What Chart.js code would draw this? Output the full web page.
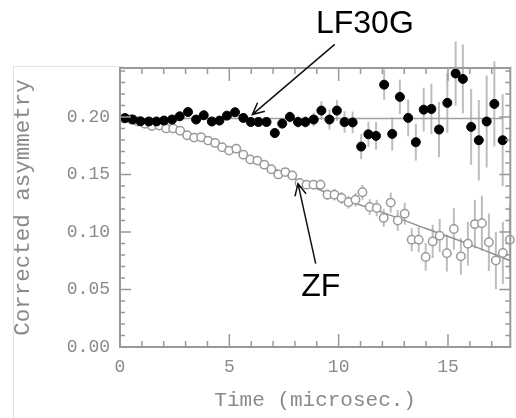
<!DOCTYPE html>
<html>
<head>
<meta charset="utf-8">
<script src="https://cdn.jsdelivr.net/npm/chart.js@4.4.1/dist/chart.umd.min.js"></script>
<style>
  html, body { margin: 0; padding: 0; background: #fff; }
  #wrap { position: relative; width: 516px; height: 418px; }
  #slide { position: absolute; left: 13px; top: 66px; width: 110px; height: 360px;
           border-left: 1px solid #e2e2e2; border-top: 1px solid #e2e2e2; }
  #chart { position: absolute; left: 0; top: 0; }
</style>
</head>
<body>
<div id="wrap">
  <div id="slide"></div>
  <canvas id="chart" width="516" height="418"></canvas>
</div>
<script>
// LF 30G data (filled circles)
const lfTime = [0.23, 0.58, 0.94, 1.32, 1.67, 2.01, 2.38, 2.73, 3.11, 3.48, 3.83, 4.20, 4.55, 4.89, 5.26, 5.64,
  5.98, 6.33, 6.70, 7.08, 7.42, 7.77, 8.14, 8.48, 8.86, 9.21, 9.58, 9.92, 10.27, 10.64, 11.03, 11.36, 11.71,
  12.08, 12.45, 12.80, 13.18, 13.53, 13.89, 14.24, 14.59, 14.97, 15.35, 15.68, 16.06, 16.41, 16.77, 17.12, 17.50];
const lfAsym = [0.199, 0.1977, 0.1962, 0.196, 0.196, 0.1968, 0.1977, 0.2005, 0.2043, 0.1977, 0.2014, 0.196,
  0.1968, 0.2011, 0.204, 0.1991, 0.1956, 0.1956, 0.1956, 0.186, 0.1942, 0.2, 0.1956, 0.1956, 0.1977, 0.2055,
  0.1977, 0.2055, 0.1955, 0.1952, 0.1742, 0.1849, 0.1835, 0.228, 0.1852, 0.2174, 0.1991, 0.178, 0.2063,
  0.2069, 0.189, 0.2122, 0.2377, 0.233, 0.1913, 0.1797, 0.196, 0.2113, 0.1797];
const lfErr = [0.0015, 0.0015, 0.0016, 0.0016, 0.0017, 0.0018, 0.0019, 0.002, 0.0021, 0.0022, 0.0024, 0.0025,
  0.0027, 0.0029, 0.003, 0.0032, 0.0035, 0.0037, 0.004, 0.0042, 0.0045, 0.0048, 0.005, 0.0052, 0.006, 0.008,
  0.0087, 0.009, 0.0094, 0.0094, 0.011, 0.011, 0.012, 0.013, 0.0145, 0.015, 0.016, 0.016, 0.019, 0.022, 0.024,
  0.026, 0.028, 0.03, 0.033, 0.035, 0.04, 0.037, 0.04];

// ZF data (open circles)
const zfTime = [0.18, 0.50, 0.82, 1.14, 1.46, 1.79, 2.11, 2.43, 2.75, 3.07, 3.39, 3.71, 4.03, 4.35, 4.67, 4.99,
  5.32, 5.64, 5.96, 6.28, 6.60, 6.92, 7.24, 7.56, 7.88, 8.21, 8.53, 8.85, 9.17, 9.49, 9.81, 10.13, 10.45, 10.77,
  11.09, 11.42, 11.74, 12.06, 12.38, 12.70, 13.02, 13.34, 13.66, 13.98, 14.30, 14.62, 14.95, 15.27, 15.59,
  15.91, 16.23, 16.55, 16.87, 17.19, 17.51, 17.83];
const zfAsym = [0.1985, 0.198, 0.196, 0.194, 0.192, 0.1925, 0.19, 0.19, 0.188, 0.184, 0.182, 0.1823, 0.1794,
  0.1774, 0.1736, 0.1707, 0.1724, 0.1672, 0.163, 0.162, 0.1585, 0.1545, 0.15, 0.152, 0.149, 0.1426, 0.1411,
  0.1411, 0.1411, 0.1324, 0.1324, 0.1295, 0.1258, 0.128, 0.1345, 0.1217, 0.1208, 0.1122, 0.1255, 0.11, 0.1158,
  0.0933, 0.0933, 0.0783, 0.0918, 0.0968, 0.0815, 0.1026, 0.0788, 0.0898, 0.1068, 0.1075, 0.091, 0.0752,
  0.0817, 0.0933];
const zfErr = [0.0012, 0.0012, 0.0013, 0.0013, 0.0014, 0.0014, 0.0015, 0.0016, 0.0016, 0.0017, 0.0018, 0.0019,
  0.002, 0.002, 0.0021, 0.0022, 0.0023, 0.0024, 0.0025, 0.0027, 0.0028, 0.003, 0.0031, 0.0033, 0.0035, 0.0037,
  0.0039, 0.0041, 0.0044, 0.0046, 0.005, 0.0052, 0.0056, 0.006, 0.0065, 0.0068, 0.0072, 0.0078, 0.0087, 0.009,
  0.0095, 0.01, 0.011, 0.012, 0.0145, 0.0145, 0.016, 0.018, 0.016, 0.019, 0.021, 0.024, 0.025, 0.025, 0.027, 0.029];

// fitted curves
const lfFitTime = [0, 17.5];
const lfFitAsym = [0.1985, 0.1985];
const zfFitTime = [0, 2, 4, 6, 8, 10, 12, 14, 16, 17.85];
const zfFitAsym = [0.198, 0.192, 0.18, 0.165, 0.146, 0.13, 0.117, 0.103, 0.089, 0.075];

// axis ticks
const xMajor = [0, 5, 10, 15];
const xMinor = [1, 2, 3, 4, 6, 7, 8, 9, 11, 12, 13, 14, 16, 17];
const yMajor = [0, 0.05, 0.10, 0.15, 0.20];
const yMinor = [0.01, 0.02, 0.03, 0.04, 0.06, 0.07, 0.08, 0.09, 0.11, 0.12, 0.13, 0.14, 0.16, 0.17, 0.18, 0.19, 0.21, 0.22, 0.23, 0.24];

// callouts (data units)
const notes = [
  { text: 'LF30G', at: [11.2, 0.281], from: [9.82, 0.263], to: [6.05, 0.202] },
  { text: 'ZF', at: [9.18, 0.0524], from: [8.95, 0.0724], to: [8.14, 0.142] }
];

function pts(xs, ys) {
  return xs.map((v, i) => ({ x: v, y: ys[i] }));
}

const gray = '#999999';
const axisFont = 'Liberation Mono';

const extras = {
  id: 'extras',
  beforeDatasetsDraw(chart) {
    const { ctx, scales: { x, y } } = chart;
    ctx.save();
    ctx.strokeStyle = '#bdbdbd';
    ctx.lineWidth = 2;
    function bars(ts, vs, es) {
      ts.forEach((t, i) => {
        const px = x.getPixelForValue(t);
        ctx.beginPath();
        ctx.moveTo(px, y.getPixelForValue(vs[i] - es[i]));
        ctx.lineTo(px, y.getPixelForValue(vs[i] + es[i]));
        ctx.stroke();
      });
    }
    bars(zfTime, zfAsym, zfErr);
    bars(lfTime, lfAsym, lfErr);
    ctx.restore();
  },
  afterDraw(chart) {
    const { ctx, chartArea: a, scales: { x, y } } = chart;
    ctx.save();
    // frame
    ctx.strokeStyle = gray;
    ctx.lineWidth = 2;
    ctx.strokeRect(a.left, a.top, a.right - a.left, a.bottom - a.top);
    // inward ticks on all four sides
    ctx.lineWidth = 1.5;
    function xt(list, len) {
      list.forEach(v => {
        const px = x.getPixelForValue(v);
        ctx.beginPath();
        ctx.moveTo(px, a.bottom); ctx.lineTo(px, a.bottom - len);
        ctx.moveTo(px, a.top); ctx.lineTo(px, a.top + len);
        ctx.stroke();
      });
    }
    function yt(list, len) {
      list.forEach(v => {
        const py = y.getPixelForValue(v);
        ctx.beginPath();
        ctx.moveTo(a.left, py); ctx.lineTo(a.left + len, py);
        ctx.moveTo(a.right, py); ctx.lineTo(a.right - len, py);
        ctx.stroke();
      });
    }
    xt(xMajor, 13); xt(xMinor, 6);
    yt(yMajor, 11); yt(yMinor, 5);

    // callouts
    ctx.strokeStyle = '#111';
    ctx.fillStyle = '#000';
    ctx.lineWidth = 1.5;
    ctx.font = '32px "Liberation Sans", Arial, sans-serif';
    ctx.textAlign = 'center';
    ctx.textBaseline = 'middle';
    notes.forEach(n => {
      const fx = x.getPixelForValue(n.from[0]), fy = y.getPixelForValue(n.from[1]);
      const tx = x.getPixelForValue(n.to[0]), ty = y.getPixelForValue(n.to[1]);
      ctx.beginPath();
      ctx.moveTo(fx, fy); ctx.lineTo(tx, ty);
      const ang = Math.atan2(ty - fy, tx - fx);
      const h = 13, w = 0.45;
      ctx.moveTo(tx - h * Math.cos(ang - w), ty - h * Math.sin(ang - w));
      ctx.lineTo(tx, ty);
      ctx.lineTo(tx - h * Math.cos(ang + w), ty - h * Math.sin(ang + w));
      ctx.stroke();
      ctx.fillText(n.text, x.getPixelForValue(n.at[0]), y.getPixelForValue(n.at[1]));
    });
    ctx.restore();
  }
};

const ctx = document.getElementById('chart').getContext('2d');
new Chart(ctx, {
  type: 'scatter',
  data: {
    datasets: [
      {
        label: 'LF30G',
        data: pts(lfTime, lfAsym),
        pointRadius: 4.5,
        pointBackgroundColor: '#000',
        pointBorderColor: '#000',
        pointBorderWidth: 1,
        clip: false,
        order: 1
      },
      {
        label: 'ZF',
        data: pts(zfTime, zfAsym),
        pointRadius: 4.2,
        pointBackgroundColor: '#fff',
        pointBorderColor: '#9a9a9a',
        pointBorderWidth: 1.5,
        clip: false,
        order: 2
      },
      {
        type: 'line',
        label: 'LF fit',
        data: pts(lfFitTime, lfFitAsym),
        borderColor: '#a0a0a0',
        borderWidth: 1.5,
        pointRadius: 0,
        showLine: true,
        order: 3
      },
      {
        type: 'line',
        label: 'ZF fit',
        data: pts(zfFitTime, zfFitAsym),
        borderColor: '#909090',
        borderWidth: 1.5,
        pointRadius: 0,
        showLine: true,
        cubicInterpolationMode: 'monotone',
        order: 4
      }
    ]
  },
  options: {
    responsive: false,
    animation: false,
    layout: { padding: { top: 68, right: 3, left: 0, bottom: 0 } },
    plugins: { legend: { display: false }, tooltip: { enabled: false } },
    scales: {
      x: {
        type: 'linear',
        min: 0,
        max: 17.85,
        grid: { display: false, drawTicks: false },
        border: { display: false },
        afterBuildTicks: s => { s.ticks = xMajor.map(v => ({ value: v })); },
        afterFit: s => { s.height = 71; },
        ticks: {
          padding: 9,
          color: '#8a8a8a',
          font: { family: axisFont, size: 18 },
          maxRotation: 0,
          callback: v => String(v)
        },
        title: {
          display: true,
          text: 'Time (microsec.)',
          color: '#8a8a8a',
          font: { family: axisFont, size: 21 },
          padding: { top: 0, bottom: 5 }
        }
      },
      y: {
        type: 'linear',
        min: 0,
        max: 0.2425,
        grid: { display: false, drawTicks: false },
        border: { display: false },
        afterBuildTicks: s => { s.ticks = yMajor.map(v => ({ value: v })); },
        afterFit: s => { s.width = 120; },
        ticks: {
          padding: 10,
          color: '#8a8a8a',
          font: { family: axisFont, size: 18 },
          callback: v => v.toFixed(2)
        },
        title: {
          display: true,
          text: 'Corrected asymmetry',
          color: '#8a8a8a',
          font: { family: axisFont, size: 22.5 },
          padding: { top: 10, bottom: 0 }
        }
      }
    }
  },
  plugins: [extras]
});
</script>
</body>
</html>
